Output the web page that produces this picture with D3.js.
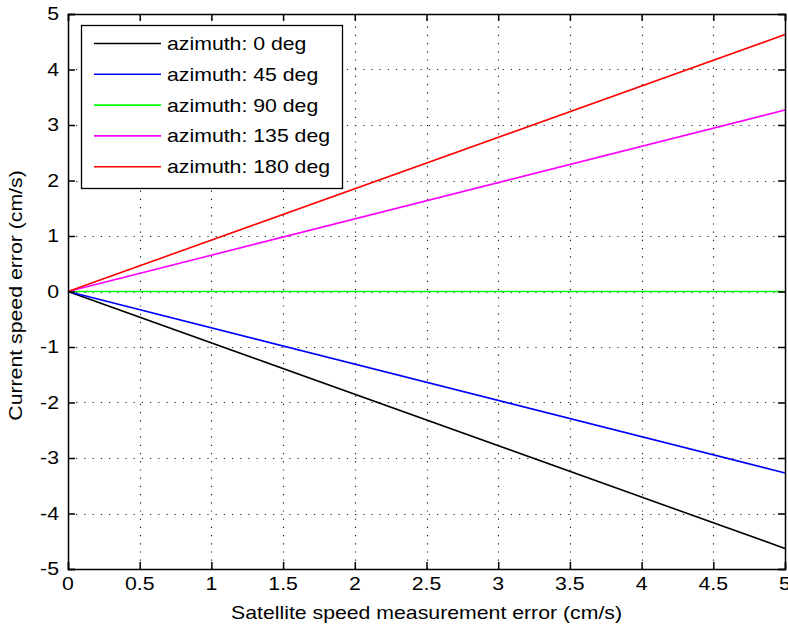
<!DOCTYPE html>
<html>
<head>
<meta charset="utf-8">
<script src="https://cdn.jsdelivr.net/npm/d3@7"></script>
<style>
  html, body { margin: 0; padding: 0; background: #fff; }
  svg text { font-family: "Liberation Sans", Arial, sans-serif; fill: #000; }
</style>
</head>
<body>
<svg id="chart" width="788" height="630"></svg>
<script>
// Current speed error vs. satellite speed measurement error, per azimuth
const xValues = [0, 5];
const seriesNames = ["azimuth: 0 deg", "azimuth: 45 deg", "azimuth: 90 deg", "azimuth: 135 deg", "azimuth: 180 deg"];
const az0 = [0, -4.63];
const az45 = [0, -3.27];
const az90 = [0, 0];
const az135 = [0, 3.27];
const az180 = [0, 4.63];
const seriesColors = ["#000000", "#0000ff", "#00ff00", "#ff00ff", "#ff0000"];
const xTicks = [0, 0.5, 1, 1.5, 2, 2.5, 3, 3.5, 4, 4.5, 5];
const yTicks = [-5, -4, -3, -2, -1, 0, 1, 2, 3, 4, 5];
const xTitle = "Satellite speed measurement error (cm/s)";
const yTitle = "Current speed error (cm/s)";

const series = [az0, az45, az90, az135, az180];

const svg = d3.select("#chart");
const plotL = 68, plotR = 785, plotT = 14, plotB = 569;
const fontSize = 17.5, stretch = 1.215;

const x = d3.scaleLinear().domain([0, 5]).range([plotL, plotR]);
const y = d3.scaleLinear().domain([-5, 5]).range([plotB, plotT]);

// stretched text helper
function label(g, tx, ty, str, anchor, rotate) {
  return g.append("text")
    .attr("transform", `translate(${tx},${ty})` + (rotate ? ` rotate(${rotate})` : "") + ` scale(${stretch},1)`)
    .attr("text-anchor", anchor)
    .attr("font-size", fontSize)
    .text(str);
}

// white plot background
svg.append("rect").attr("x", plotL).attr("y", plotT)
  .attr("width", plotR - plotL).attr("height", plotB - plotT).attr("fill", "#fff");

// dotted grid
const grid = svg.append("g").attr("stroke", "#222").attr("stroke-width", 1.2)
  .attr("stroke-dasharray", "1.2,7");
grid.selectAll(".gx").data(xTicks.slice(1, -1)).join("line")
  .attr("x1", d => Math.round(x(d)) + 0.5).attr("x2", d => Math.round(x(d)) + 0.5)
  .attr("y1", plotB).attr("y2", plotT);
grid.selectAll(".gy").data(yTicks.slice(1, -1)).join("line")
  .attr("y1", d => Math.round(y(d)) + 0.5).attr("y2", d => Math.round(y(d)) + 0.5)
  .attr("x1", plotL).attr("x2", plotR);

// series lines
const line = d3.line().x((d, i) => x(xValues[i])).y(d => y(d));
svg.append("g").selectAll("path").data(series).join("path")
  .attr("d", d => line(d))
  .attr("fill", "none")
  .attr("stroke", (d, i) => seriesColors[i])
  .attr("stroke-width", 1.6);

// axes box with inward ticks on all four sides
const axisG = svg.append("g");
const tickLen = 7;
const bottomAxis = d3.axisBottom(x).tickValues(xTicks).tickSize(-tickLen).tickFormat("");
const topAxis = d3.axisTop(x).tickValues(xTicks).tickSize(-tickLen).tickFormat("");
const leftAxis = d3.axisLeft(y).tickValues(yTicks).tickSize(-tickLen).tickFormat("");
const rightAxis = d3.axisRight(y).tickValues(yTicks).tickSize(-tickLen).tickFormat("");
[[bottomAxis, `translate(0,${plotB})`], [topAxis, `translate(0,${plotT})`],
 [leftAxis, `translate(${plotL},0)`], [rightAxis, `translate(${plotR},0)`]].forEach(([ax, tr]) => {
  const g = axisG.append("g").attr("transform", tr).call(ax);
  g.select(".domain").attr("stroke", "#000").attr("stroke-width", 1.5);
  g.selectAll(".tick line").attr("stroke", "#000").attr("stroke-width", 1.5);
});

// tick labels
const fmt = d => String(d);
const tl = svg.append("g");
xTicks.forEach(t => label(tl, x(t), plotB + 21, fmt(t), "middle"));
yTicks.forEach(t => label(tl, plotL - 9, y(t) + 6, fmt(t), "end"));

// axis titles
label(svg, (plotL + plotR) / 2, 619, xTitle, "middle");
label(svg.append("g"), 22, (plotT + plotB) / 2 + 4, yTitle, "middle", -90);

// legend
const lg = svg.append("g");
lg.append("rect").attr("x", 81.5).attr("y", 25.5).attr("width", 261).attr("height", 163)
  .attr("fill", "#fff").attr("stroke", "#000").attr("stroke-width", 1.3);
const rowY = i => 43.5 + i * 30.8;
seriesNames.forEach((name, i) => {
  lg.append("line").attr("x1", 94).attr("x2", 161)
    .attr("y1", rowY(i)).attr("y2", rowY(i))
    .attr("stroke", seriesColors[i]).attr("stroke-width", 1.6);
  label(lg, 167, rowY(i) + 6.5, name, "start");
});
</script>
</body>
</html>
